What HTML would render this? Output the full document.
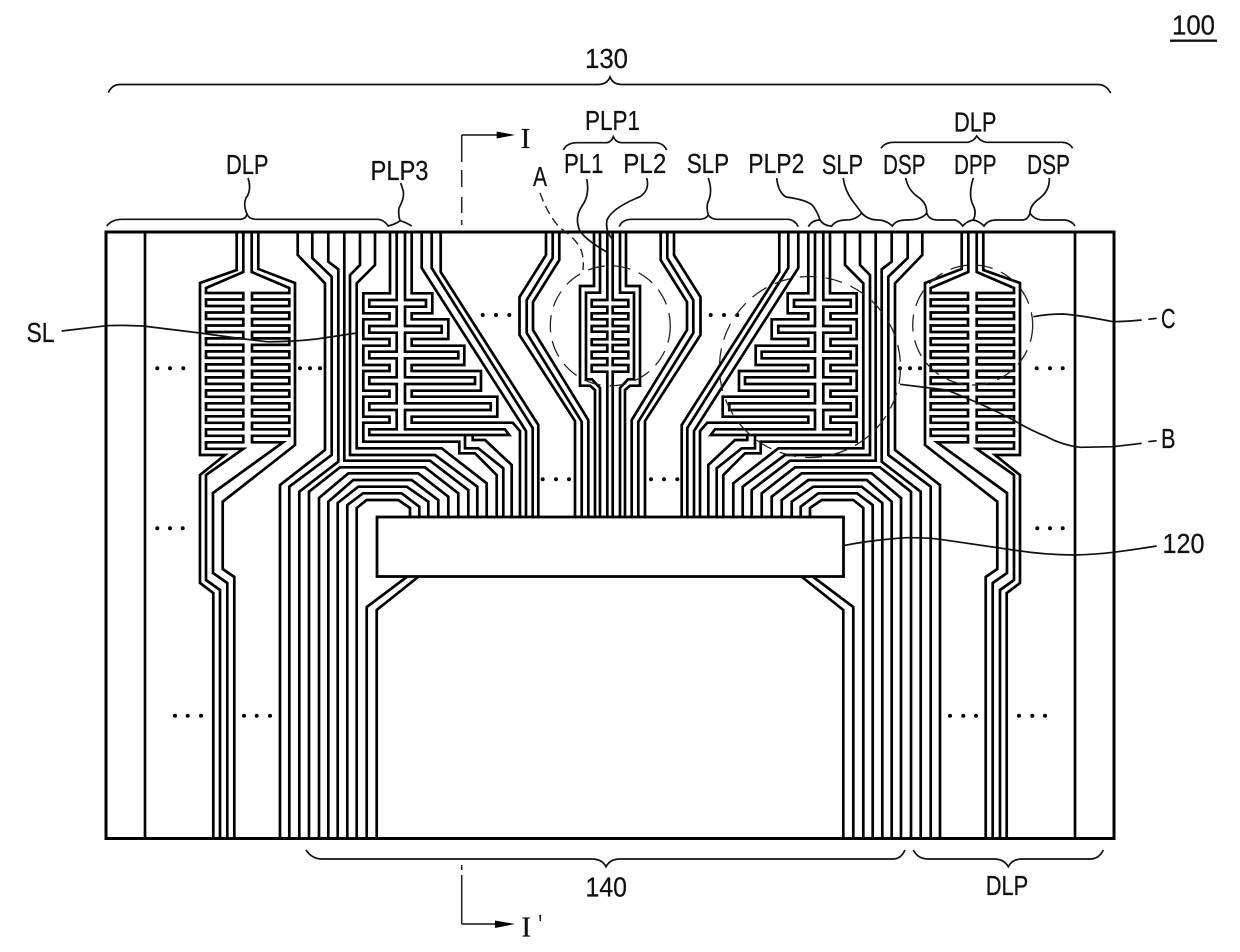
<!DOCTYPE html>
<html><head><meta charset="utf-8"><title>Diagram 100</title>
<style>
html,body{margin:0;padding:0;background:#fff}
svg{display:block}
text{font-family:"Liberation Sans",sans-serif;font-size:28px;fill:#111;stroke:#111;stroke-width:.25}
.s{font-family:"Liberation Serif",serif}
.t{fill:none;stroke:#000;stroke-width:2.7;stroke-linejoin:miter}
.b{fill:none;stroke:#111;stroke-width:1.7}
.c{fill:none;stroke:#222;stroke-width:1.3;stroke-dasharray:17 9}
</style></head><body>
<svg width="1240" height="952" viewBox="0 0 1240 952" xmlns="http://www.w3.org/2000/svg">
<rect width="1240" height="952" fill="#fff"/>
<g id="half">
<g class="t">
<path d="M145,232V838"/>
<!-- DLP comb -->
<path d="M236.7,232V270L200,283V455H225L200,475V583L213.3,593V838"/>
<path d="M243.3,232V272L206,288V293H243.3V299.5H206V306H243.3V312.5H206V319H243.3V325.5H206V332H243.3V338.4H206V344.9H243.3V351.4H206V357.9H243.3V364.4H206V370.9H243.3V377.4H206V383.9H243.3V390.4H206V396.8H243.3V403.3H206V409.8H243.3V416.3H206V422.8H243.3V429.3H206V435.8H243.3V442.3H206V448.8H243.3L206,475V580L220,590V838"/>
<path d="M251.7,232V272L289.3,288V293H252V299.5H289.3V306H252V312.5H289.3V319H252V325.5H289.3V332H252V338.4H289.3V344.9H252V351.4H289.3V357.9H252V364.4H289.3V370.9H252V377.4H289.3V383.9H252V390.4H289.3V396.8H252V403.3H289.3V409.8H252V416.3H289.3V422.8H252V429.3H289.3V435.8H252V442.3H283L213,493V573L227.3,583V838"/>
<path d="M258.3,232V269L295,283V445L222.7,501.7V569L234.3,577V838"/>
<!-- fan-out -->
<path d="M297.7,232V255L325,283.3V450L280,485V838"/>
<path d="M312.3,232V258L331.7,276.7V455L289.3,486.7V838"/>
<path d="M328.3,232V261.7L338.3,269.3V461.7L299.3,491.7V838"/>
<path d="M344.3,232V460.7H430L468.3,490V517"/>
<path d="M360,232V265L350,275V455H435L477.3,486.7V517"/>
<path d="M375,232V265L356.7,283.3V448.3H441.7L486.7,483.3V517"/>
<!-- nested -->
<path d="M309,838V491.7L340,467.3H425L458.3,493.3V517"/>
<path d="M319,838V498L348.3,473.3H418.3L448.3,496.7V517"/>
<path d="M328.3,838V501.7L353.3,480H411.7L438.3,500V517"/>
<path d="M337.7,838V503L358.3,486.7H406.7L428.3,501.7V517"/>
<path d="M347.3,838V505L363,493.3H401.7L419.3,506.7V517"/>
<path d="M356.7,838V508L366.7,500H398.3L410,508V517"/>
<path d="M366.7,838V607L406.7,577"/>
<path d="M376.7,838V610L418,577"/>
<!-- PLP3 comb -->
<path d="M390,232V293.3H363.3V313.3H389.5V319.3H363.3V339H389.5V345.7H363.3V365H389.5V371H363.3V390.7H389.5V396.7H363.3V416.7H389.5V422.7H363.3V441.7H459.3V453.3H475L496.7,475V517"/>
<path d="M396.7,232V300H369.3V306.7H396.7V326H369.3V332.7H396.7V351.7H369.3V358.3H396.7V377.3H369.3V384H396.7V403.3H369.3V410H396.7V429.3H369.3V435H509.3L505,429.3H405V410H490.7V403.3H405V384H475V377.3H405V358.3H458.3V351.7H405V332.7H441.7V326H405V306.7H426V300H405V232"/>
<path d="M411.7,232V293.3H432.3V313.3H411.7V319.3H448.3V339H411.7V345.7H464.3V365H411.7V371H481V390.7H411.7V396.7H497.3V416.7H411.7V422.7H512.7L520,431V517"/>
<path d="M465,435V448.3H478.3L503.3,468.3V517"/>
<path d="M472.7,435V440H485L511.7,465V517"/>
<path d="M421.7,232V268L526,431V517"/>
<path d="M431.7,232V268L532.7,428V517"/>
<path d="M440.7,232V272L538.3,425V517"/>
<!-- centre -->
<path d="M546,232V255L519.5,297V335L575,421V517"/>
<path d="M552.7,232V258L526.7,300V333L581.7,421.7V517"/>
<path d="M559.3,232V260L533,302V330L588.3,420V517"/>
<path d="M594,232V286H580V385.7H590L595,390V517"/>
<path d="M600,232V292.7H586V379.3H592L600,388V517"/>
<path d="M607.3,232V300H591.7V306.7H607.3V313.3H591.7V319.3H607.3V326H591.7V331.7H607.3V339.3H591.7V345H607.3V351.7H591.7V358.3H607.3V365H591.7V371.7H607.3V517"/>
</g>
<g fill="#000">
<circle cx="157.3" cy="368.3" r="2"/><circle cx="170" cy="368.3" r="2"/><circle cx="183.3" cy="368.3" r="2"/>
<circle cx="300" cy="368.3" r="2"/><circle cx="310" cy="368.3" r="2"/><circle cx="320" cy="368.3" r="2"/>
<circle cx="157.3" cy="528.3" r="2"/><circle cx="170" cy="528.3" r="2"/><circle cx="182.7" cy="528.3" r="2"/>
<circle cx="175" cy="715.7" r="2"/><circle cx="187.7" cy="715.7" r="2"/><circle cx="201" cy="715.7" r="2"/>
<circle cx="244" cy="715.7" r="2"/><circle cx="256.7" cy="715.7" r="2"/><circle cx="270" cy="715.7" r="2"/>
<circle cx="482.7" cy="315" r="2"/><circle cx="496" cy="315" r="2"/><circle cx="509.3" cy="315" r="2"/>
<circle cx="542.7" cy="479.3" r="2"/><circle cx="556" cy="479.3" r="2"/><circle cx="569" cy="479.3" r="2"/>
</g>
</g>
<use href="#half" transform="matrix(-1 0 0 1 1220 0)"/>
<rect x="106" y="232" width="1008" height="606.5" fill="none" stroke="#000" stroke-width="3"/>
<rect x="377" y="517" width="466.5" height="59.5" fill="#fff" stroke="#000" stroke-width="2.8"/>

<!-- dashed circles -->
<circle class="c" cx="610.3" cy="325.8" r="60"/>
<circle class="c" cx="810" cy="367" r="90.5"/>
<circle class="c" cx="972.7" cy="325" r="60"/>

<!-- braces -->
<g class="b">
<path d="M108.3,92.7Q112,84.5 120,84.5H598Q607,84.5 610,77Q613,84.5 622,84.5H1098Q1106,84.5 1110.7,93"/>
<path d="M106.7,226Q112,219.3 122,219.3H240Q246,219 247,214Q243,205 246,198Q252,190 248,178"/>
<path d="M247,214Q249,219.3 256,219.3H378Q384,220 388.3,226Q396,224 400,220.7Q405,222 411.7,226"/>
<path d="M400,220.7Q398,214 399,208Q405,197 403,190L400.7,183"/>
<path d="M563.3,150Q567,142.7 577,142.7H606Q611,142.7 613.3,136.7Q616,142.7 622,142.7H655Q663,142.7 666.7,150"/>
<path d="M881,148.3Q885,142.3 894,142.3H968Q974,141 976.7,136Q980,141 986,142.3H1062Q1069,142.3 1072.7,148.3"/>
<path d="M619.3,226.7Q622,219.3 632,219.3H700Q706,219 708.3,215Q711,219 717,219.3H788Q795,220 798.3,226.7"/>
<path d="M708.3,215Q706,207 708,202Q713,192 708.3,178"/>
<path d="M808.3,226.7Q812,220 820,220Q824,226 831.7,226Q836,220 846,220Q856,220 861.7,213Q868,220 878,220Q886,220 892.3,226Q896,220 906,220Q922,220 926.7,213Q929,220 938,220H955Q959,221 962.7,226Q967,221 973.3,220Q979,221 984,226Q988,220 996,220H1022Q1028,220 1030,213Q1034,220 1044,220H1065Q1072,221 1075,226"/>
<path d="M776.7,178Q778,192 786,197Q808,200 813,206Q818,213 820,220"/>
<path d="M843.3,178Q845,192 855,204L861.7,213"/>
<path d="M905.7,178Q908,190 918,197Q927,203 926.7,213"/>
<path d="M973.3,178Q968,195 973,205Q977,212 973.3,220"/>
<path d="M1049.3,178Q1050,190 1040,198Q1030,205 1030,213"/>
<path d="M586.7,179Q590,195 582,206Q574,218 580,231Q586,240 606.7,252"/>
<path d="M646.7,178Q650,190 640,196.7Q612,208 607,220Q605,232 613.3,240"/>
<path d="M306,850Q312,859 322,859H592Q602,859 606,866.7Q610,859 620,859H893Q901,859 905,850"/>
<path d="M913.3,850Q918,859 928,859H994Q1004,859 1008.3,866.7Q1012,859 1022,859H1090Q1099,859 1103.3,850"/>
<path d="M1033.3,316.7Q1048,314 1063.3,314Q1085,316 1113,321.7Q1128,321.5 1141.7,320M1148.3,319.3L1156.7,318.3"/>
<path d="M900,384.3L946.7,390Q985,405 1013.3,420Q1030,430 1046.7,436.7Q1062,445 1080,447.3L1113,446.7Q1128,445 1141.7,443.3M1148.3,441.7L1156.7,440.7"/>
<path d="M843.3,545.7Q870,540 906.7,537.7Q925,537.5 940,539.3L1013.3,550Q1045,555 1073.3,555Q1095,554.5 1113.3,552.3Q1135,549.5 1156.7,546"/>
<path d="M61.7,331L106.7,325.7Q122,325 143,326L200,333Q235,338 266.7,341.7Q290,342 316.7,339L356.7,333"/>
</g>
<path d="M540,193Q548,215 560,228Q578,240 581.7,251.7Q584,260 583,270" fill="none" stroke="#222" stroke-width="1.4" stroke-dasharray="9 5"/>

<!-- section line -->
<path d="M461.7,135V162M461.7,170V187M461.7,197V213M461.7,220V225M461.7,865V870M461.7,875V924" fill="none" stroke="#222" stroke-width="1.5"/>
<path d="M461.7,135H497M461.7,924H495" fill="none" stroke="#111" stroke-width="1.5"/>
<path d="M496.7,131.5L515,135L496.7,138.5Z" fill="#000"/>
<path d="M495,920.5L515,924L495,928Z" fill="#000"/>
<path d="M1170,40.7H1217" stroke="#111" stroke-width="2.4" fill="none"/>

<!-- labels -->
<text x="1172" y="34.5" textLength="43" lengthAdjust="spacingAndGlyphs">100</text>
<text x="585" y="68" textLength="43" lengthAdjust="spacingAndGlyphs">130</text>
<text x="226" y="174" textLength="42.5" lengthAdjust="spacingAndGlyphs">DLP</text>
<text x="370.5" y="180" textLength="58" lengthAdjust="spacingAndGlyphs">PLP3</text>
<text x="585" y="130" textLength="55" lengthAdjust="spacingAndGlyphs">PLP1</text>
<text x="564" y="173" textLength="39.5" lengthAdjust="spacingAndGlyphs">PL1</text>
<text x="623.3" y="173" textLength="43" lengthAdjust="spacingAndGlyphs">PL2</text>
<text x="686.7" y="173" textLength="42.5" lengthAdjust="spacingAndGlyphs">SLP</text>
<text x="748.3" y="173" textLength="56" lengthAdjust="spacingAndGlyphs">PLP2</text>
<text x="533" y="186" textLength="14" lengthAdjust="spacingAndGlyphs">A</text>
<text class="s" x="520.5" y="148" textLength="10" lengthAdjust="spacingAndGlyphs">I</text>
<text class="s" x="521.5" y="936.5" textLength="9.5" lengthAdjust="spacingAndGlyphs">I</text>
<text x="538.5" y="934" textLength="3.5" lengthAdjust="spacingAndGlyphs">'</text>
<text x="821.7" y="174" textLength="41.5" lengthAdjust="spacingAndGlyphs">SLP</text>
<text x="883" y="174" textLength="42.5" lengthAdjust="spacingAndGlyphs">DSP</text>
<text x="954" y="174" textLength="42.5" lengthAdjust="spacingAndGlyphs">DPP</text>
<text x="1027" y="174" textLength="43" lengthAdjust="spacingAndGlyphs">DSP</text>
<text x="954" y="131.7" textLength="42.5" lengthAdjust="spacingAndGlyphs">DLP</text>
<text x="585.5" y="896.5" textLength="41.5" lengthAdjust="spacingAndGlyphs">140</text>
<text x="985.7" y="895" textLength="42.5" lengthAdjust="spacingAndGlyphs">DLP</text>
<text x="1161" y="328" textLength="14.5" lengthAdjust="spacingAndGlyphs">C</text>
<text x="1161" y="448" textLength="14.5" lengthAdjust="spacingAndGlyphs">B</text>
<text x="1162.5" y="553" textLength="42" lengthAdjust="spacingAndGlyphs">120</text>
<text x="26.5" y="342" textLength="28" lengthAdjust="spacingAndGlyphs">SL</text>
</svg>
</body></html>
